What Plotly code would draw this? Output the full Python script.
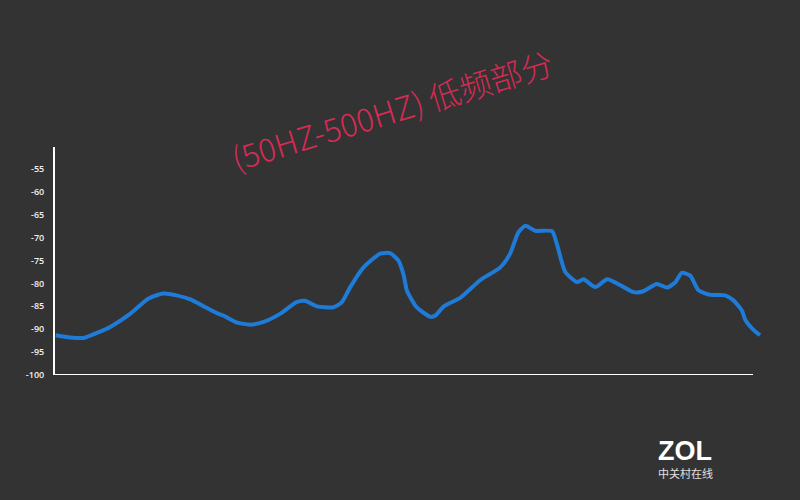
import plotly.graph_objects as go

# Relative position along the 50Hz-500Hz band (0 = left end, 100 = right end of axis)
position = [0.1, 2.2, 4.1, 6.0, 7.9, 10.8, 13.4, 15.5, 17.4, 19.4, 21.3, 23.2, 24.1,
            26.0, 28.0, 29.9, 32.3, 34.6, 35.8, 37.5, 39.9, 41.1, 42.3, 44.2, 46.6,
            48.0, 49.2, 49.9, 50.4, 50.9, 51.8, 53.8, 54.5, 55.7, 58.1, 60.9, 63.8,
            65.2, 66.4, 67.4, 68.8, 71.2, 71.9, 73.1, 74.8, 75.7, 77.4, 79.1, 81.0,
            82.9, 84.3, 86.2, 87.7, 88.9, 89.8, 91.0, 92.2, 93.9, 96.0, 97.2, 98.4,
            98.9, 100.1, 101.0]
level_db = [-91.3, -91.8, -91.9, -90.8, -89.5, -86.6, -83.3, -82.2, -82.6, -83.5, -85.0,
            -86.5, -87.0, -88.5, -89.0, -88.4, -86.6, -84.1, -83.8, -85.0, -85.2, -84.1,
            -80.8, -76.5, -73.5, -73.4, -75.0, -77.9, -81.5, -83.0, -85.2, -87.3, -87.0,
            -85.0, -83.1, -79.3, -76.5, -73.5, -68.8, -67.4, -68.5, -68.6, -71.4, -77.5,
            -79.7, -79.1, -80.8, -79.1, -80.4, -81.9, -81.7, -80.1, -80.9, -79.7, -77.7,
            -78.3, -81.5, -82.5, -82.6, -83.7, -85.9, -88.0, -90.2, -91.3]
y_ticks = [-55, -60, -65, -70, -75, -80, -85, -90, -95, -100]
title_text = "(50HZ-500HZ) 低频部分"
logo_text = "ZOL"
logo_sub = "中关村在线"

BG = "#333333"

fig = go.Figure()
fig.add_trace(go.Scatter(
    x=position, y=level_db, mode="lines",
    line=dict(color="#1E7BD8", width=4, shape="spline", smoothing=0.6),
    hoverinfo="skip", showlegend=False, cliponaxis=False,
))

# x axis baseline (no tick labels in the original)
fig.add_shape(type="line", xref="x", yref="y", x0=0, x1=100, y0=-100, y1=-100,
              line=dict(color="#ffffff", width=2), layer="above")

fig.add_annotation(text=title_text, xref="paper", yref="paper", x=0.474, y=1.165,
                   xanchor="center", yanchor="middle", textangle=-17, showarrow=False,
                   font=dict(family="Noto Sans CJK SC", size=32, color="#D52B55", weight=300))
fig.add_annotation(text=logo_text, xref="paper", yref="paper",
                   x=0.885, y=-0.335, xanchor="center", yanchor="middle", showarrow=False,
                   font=dict(family="Liberation Sans", size=27, color="#ffffff", weight=900))
fig.add_annotation(text=logo_sub, xref="paper", yref="paper",
                   x=0.885, y=-0.43, xanchor="center", yanchor="middle", showarrow=False,
                   font=dict(family="Noto Sans CJK SC", size=11, color="#e0e0e0"))

fig.update_layout(
    width=800, height=500,
    paper_bgcolor=BG, plot_bgcolor=BG,
    margin=dict(l=55, r=33, t=147, b=125),
    xaxis=dict(range=[0, 102], showgrid=False, zeroline=False, showline=False,
               showticklabels=False, ticks=""),
    yaxis=dict(range=[-100, -50.2], tickvals=y_ticks, ticktext=[str(v) for v in y_ticks],
               showgrid=False, zeroline=False, showline=True, linecolor="#ffffff",
               linewidth=2, ticks="", ticklabelstandoff=7,
               tickfont=dict(family="Open Sans", size=9, color="#f0f0f0", weight=600)),
)

fig.write_html("out.html", config={"displayModeBar": False},
               post_script="document.body.style.margin='0';")
